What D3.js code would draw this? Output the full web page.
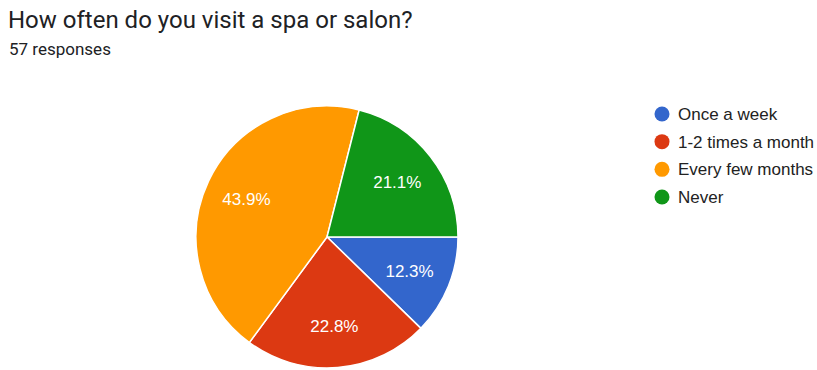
<!DOCTYPE html>
<html>
<head>
<meta charset="utf-8">
<script src="https://cdn.jsdelivr.net/npm/d3@7"></script>
<style>
  html, body { margin: 0; padding: 0; background: #fff; }
  svg { display: block; font-family: Roboto, Arial, sans-serif; }
</style>
</head>
<body>
<svg id="chart" width="817" height="370"></svg>
<script>
// Survey answers
const categories = ["Once a week", "1-2 times a month", "Every few months", "Never"];
const counts = [7, 13, 25, 12];
const colors = ["#3366cc", "#dc3912", "#ff9900", "#109618"];
const title = "How often do you visit a spa or salon?";
const subtitle = "57 responses";

const svg = d3.select("#chart");
const chartFont = "'Liberation Sans', Arial, sans-serif";

svg.append("text")
  .attr("x", 8).attr("y", 28)
  .attr("font-size", 24)
  .attr("fill", "#202124")
  .text(title);

svg.append("text")
  .attr("x", 9).attr("y", 55)
  .attr("font-size", 17)
  .attr("fill", "#202124")
  .text(subtitle);

// Pie, starting at three o'clock and running clockwise
const cx = 327, cy = 237, r = 131;
const total = d3.sum(counts);
const pie = d3.pie().sort(null).value(d => d)
  .startAngle(Math.PI / 2).endAngle(Math.PI / 2 + 2 * Math.PI);
const arcs = pie(counts);
const arc = d3.arc().innerRadius(0).outerRadius(r);
const labelArc = d3.arc().innerRadius(r * 0.68).outerRadius(r * 0.68);

const g = svg.append("g").attr("transform", `translate(${cx},${cy})`);
g.selectAll("path").data(arcs).join("path")
  .attr("d", arc)
  .attr("fill", (d, i) => colors[i])
  .attr("stroke", "#fff")
  .attr("stroke-width", 1.5);

g.selectAll("text.pct").data(arcs).join("text")
  .attr("class", "pct")
  .attr("transform", d => `translate(${labelArc.centroid(d)})`)
  .attr("text-anchor", "middle")
  .attr("dy", "0.36em")
  .attr("font-family", chartFont)
  .attr("font-size", 17)
  .attr("fill", "#fff")
  .text(d => (d.data / total * 100).toFixed(1) + "%");

// Legend
const legend = svg.append("g").attr("transform", "translate(662,114)");
const y = d3.scalePoint().domain(categories).range([0, 83]);
const items = legend.selectAll("g").data(categories).join("g")
  .attr("transform", d => `translate(0,${y(d)})`);
items.append("circle").attr("r", 7.5).attr("fill", (d, i) => colors[i]);
items.append("text")
  .attr("x", 16).attr("dy", "0.36em")
  .attr("font-family", chartFont)
  .attr("font-size", 17)
  .attr("fill", "#222")
  .text(d => d);
</script>
</body>
</html>
